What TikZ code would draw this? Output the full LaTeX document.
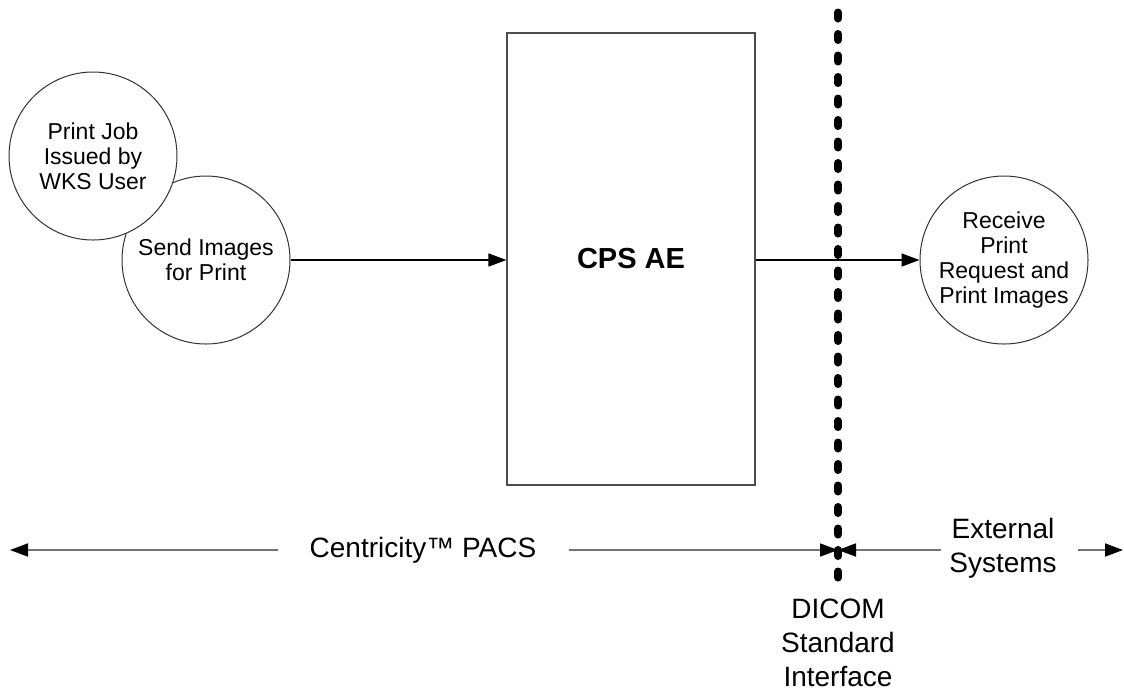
\documentclass[tikz,border=0pt]{standalone}
\usepackage{fontspec}
\setmainfont{Liberation Sans}
\usetikzlibrary{arrows.meta}
\begin{document}
\begin{tikzpicture}[x=0.5pt,y=-0.5pt,
  proc/.style={circle, draw=black!80, line width=0.5pt, fill=white, minimum size=84pt, inner sep=0pt, align=center, font=\fontsize{11.5}{12.5}\selectfont},
  flow/.style={-{Triangle[length=9pt,width=6.5pt]}, line width=0.75pt},
  span/.style={draw=black!55, line width=0.9pt, -{Triangle[length=9pt,width=6.5pt,black]}},
  lbl/.style={align=center, font=\fontsize{14}{17}\selectfont},
  boundary/.style={line width=4pt, line cap=round, dash pattern=on 3pt off 7.75pt}]
\useasboundingbox (0,0) rectangle (1124,693);
\node[proc] (send) at (206,260) {Send Images\\for Print};
\node[proc] (job) at (93,156) {Print Job\\Issued by\\WKS User};
\node[draw=black!70, line width=0.6pt, minimum width=124pt, minimum height=226pt, inner sep=0pt, font=\bfseries\fontsize{14.5}{17}\selectfont] (cps) at (631,259) {CPS AE};
\node[proc] (recv) at (1004,260) {Receive\\Print\\Request and\\Print Images};
\draw[flow] (send.east) -- (send.east -| cps.west);
\draw[flow] (cps.east |- recv.west) -- (recv.west);
\coordinate (dtop) at (838,12.5);
\coordinate (dbot) at (838,590);
\draw[boundary] (dtop) -- (dbot);
\node[lbl] (pacs) at (423,550) {Centricity™ PACS};
\node[lbl] (ext) at (1003,548) {External\\Systems};
\node[lbl] (dicom) at (838,643) {DICOM\\Standard\\Interface};
\coordinate (lt) at (10,550);
\coordinate (ls) at (278,550);
\coordinate (rs) at (569,550);
\coordinate (mid) at (838,550);
\coordinate (es) at (941,550);
\coordinate (et) at (1078,550);
\coordinate (etip) at (1123,550);
\draw[span] (ls) -- (lt);
\draw[span] (rs) -- (mid);
\draw[span] (es) -- (mid);
\draw[span] (et) -- (etip);
\end{tikzpicture}
\end{document}
